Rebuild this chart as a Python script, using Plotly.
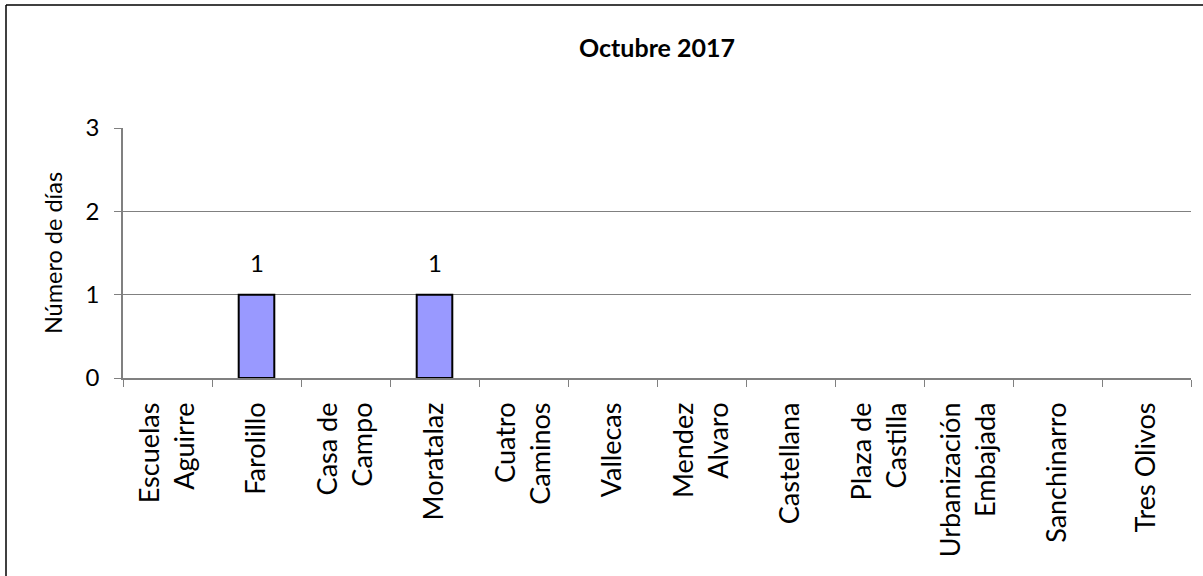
import plotly.graph_objects as go

categories = ["Escuelas<br>Aguirre", "Farolillo", "Casa de<br>Campo", "Moratalaz",
              "Cuatro<br>Caminos", "Vallecas", "Mendez<br>Alvaro", "Castellana",
              "Plaza de<br>Castilla", "Urbanización<br>Embajada", "Sanchinarro", "Tres Olivos"]
values = [0, 1, 0, 1, 0, 0, 0, 0, 0, 0, 0, 0]
title_text = "Octubre 2017"
y_title = "Número de días"

border_widths = [2 if v else 0 for v in values]

FONT = "Lato, Open Sans, sans-serif"

fig = go.Figure(go.Bar(
    x=categories, y=values,
    marker=dict(color="#9999FF", line=dict(color="#000000", width=border_widths)),
    hoverinfo="x+y",
))

annotations = [
    dict(x=c, y=v, xref="x", yref="y", text=str(v), showarrow=False,
         yanchor="middle", yshift=32,
         font=dict(family=FONT, size=24, color="#000000"))
    for c, v in zip(categories, values) if v
]

fig.update_layout(
    width=1203, height=576,
    margin=dict(l=123, r=12, t=128, b=198),
    paper_bgcolor="white", plot_bgcolor="white",
    bargap=0.6,
    showlegend=False,
    annotations=annotations,
    title=dict(text="<b>" + title_text + "</b>", x=0.5, xref="paper", xanchor="center",
               y=1 - 48/576, yref="container", yanchor="middle",
               font=dict(family=FONT, size=25, color="#000000")),
    font=dict(family=FONT, color="#000000"),
    shapes=[
        dict(type="line", xref="paper", yref="paper",
             x0=(6-123)/1068, x1=1.02, y0=(378-5)/250, y1=(378-5)/250,
             line=dict(color="#000000", width=1.5)),
        dict(type="line", xref="paper", yref="paper",
             x0=(6-123)/1068, x1=(6-123)/1068, y0=(378-5)/250, y1=-0.9,
             line=dict(color="#000000", width=1.5)),
    ],
)

fig.update_xaxes(
    type="category", tickangle=-90, tickson="boundaries",
    ticks="outside", ticklen=7, tickcolor="#808080", tickwidth=1,
    showline=True, linecolor="#808080", linewidth=1.5,
    tickfont=dict(family=FONT, size=27, color="#000000"),
    ticklabelstandoff=12,
    showgrid=False, mirror=False,
)
fig.update_yaxes(
    range=[0, 3], tickvals=[0, 1, 2, 3], ticks="outside", ticklen=7,
    tickcolor="#808080", tickwidth=1,
    showline=True, linecolor="#808080", linewidth=1.5,
    showgrid=True, gridcolor="#808080", gridwidth=1,
    zeroline=False,
    ticklabelstandoff=10,
    tickfont=dict(family=FONT, size=24, color="#000000"),
    title=dict(text=y_title, font=dict(family=FONT, size=23.5, color="#000000"), standoff=16),
)

fig.write_html("out.html", config={"displayModeBar": False},
               post_script="document.body.style.margin='0px';document.body.style.overflow='hidden';")
